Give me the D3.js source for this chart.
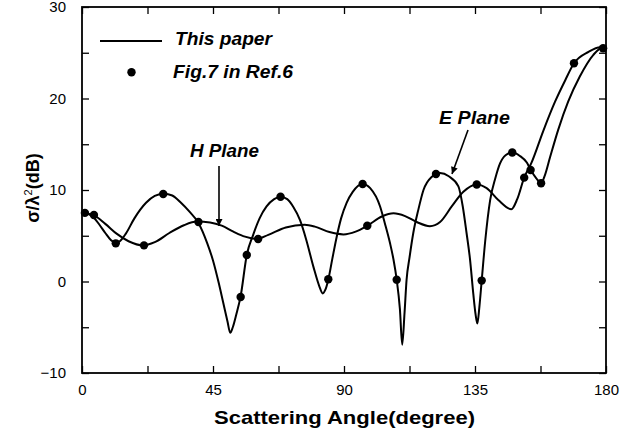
<!DOCTYPE html>
<html>
<head>
<meta charset="utf-8">
<script src="https://cdn.jsdelivr.net/npm/d3@7"></script>
<style>
  html, body { margin: 0; padding: 0; background: #fff; }
  svg { display: block; }
  text { font-family: "Liberation Sans", Arial, sans-serif; fill: #000; }
</style>
</head>
<body>
<svg id="chart" width="642" height="434"></svg>
<script>
// ---- Data ----
const ePlaneAngles = [0, 2, 4, 6, 8, 10, 11.6, 13, 15, 18, 22, 25, 28.2, 31, 34, 37, 40, 43, 45, 47, 48.5, 50, 50.9, 51.8, 53, 54.5, 56.6, 58.8, 61, 63.4, 66, 68.2, 70.5, 72.5, 74.9, 77, 79.5, 81.5, 82.7, 83.6, 84.6, 86, 87.5, 89, 90.9, 93, 96.4, 99, 102.4, 104, 105.8, 107, 108.1, 109.2, 110, 110.8, 111.5, 112.5, 113.8, 115.5, 117.3, 120, 123, 126, 129.3, 130.8, 132.1, 133.3, 134.4, 135.2, 135.8, 136.5, 137.3, 138.5, 140.2, 142, 143.6, 145.5, 148, 150.5, 152.8, 154.1, 156, 157.7, 159, 160.8, 163.6, 167, 171, 175.6, 179, 180];
const ePlaneValues = [7.5, 7.4, 7.0, 6.2, 5.3, 4.5, 4.2, 4.4, 5.2, 6.9, 8.6, 9.35, 9.6, 9.4, 8.6, 7.6, 6.4, 4.2, 2.3, -0.2, -2.3, -4.4, -5.6, -5.0, -3.6, -1.6, 2.9, 5.1, 6.9, 8.2, 9.0, 9.27, 9.0, 8.2, 6.7, 4.6, 1.6, -0.5, -1.3, -0.9, 0.2, 2.5, 4.9, 6.9, 8.6, 9.8, 10.66, 10.2, 8.2, 6.4, 4.2, 2.4, 0.2, -3.0, -6.9, -3.4, 0.2, 2.6, 5.3, 7.8, 10.0, 11.4, 11.85, 11.5, 10.4, 8.2, 5.3, 2.4, -1.3, -3.6, -4.6, -2.8, 0.1, 4.4, 8.9, 11.3, 12.9, 13.8, 14.1, 13.7, 13.0, 12.2, 11.3, 10.75, 11.6, 13.6, 16.6, 19.65, 22.4, 24.75, 25.6, 25.5];

const hPlaneAngles = [0, 4, 8, 12, 16, 21, 25, 30, 35, 39.5, 44, 48, 52, 56, 60, 64, 70, 76.5, 80, 85, 89.8, 94, 98, 103, 107, 111, 115, 119.5, 123, 127, 131, 135.5, 139, 143, 147.5, 149.5, 151.9, 154.3, 158.5, 162.5, 166, 169, 174, 178, 180];
const hPlaneValues = [7.5, 7.25, 6.3, 5.2, 4.4, 3.95, 4.3, 5.3, 6.15, 6.55, 6.45, 6.1, 5.45, 4.9, 4.65, 5.1, 5.9, 6.2, 6.0, 5.4, 5.15, 5.45, 6.1, 7.1, 7.45, 7.15, 6.5, 6.05, 6.5, 8.2, 9.8, 10.6, 10.2, 8.9, 7.9, 9.0, 11.35, 12.9, 16.5, 19.65, 22.0, 23.85, 25.1, 25.6, 25.5];

const refAngles = [1, 4.1, 11.6, 21.3, 27.9, 40, 54.5, 56.6, 60.5, 68.2, 84.6, 96.4, 98, 108.1, 121.6, 135.6, 137.3, 147.8, 151.9, 154.1, 157.7, 169, 179];
const refValues = [7.5, 7.27, 4.17, 3.95, 9.56, 6.5, -1.7, 2.9, 4.65, 9.27, 0.24, 10.66, 6.1, 0.2, 11.75, 10.6, 0.1, 14.1, 11.35, 12.19, 10.73, 23.85, 25.5];

const xTickValues = [0, 45, 90, 135, 180];
const xMinorTicks = [22.5, 67.5, 112.5, 157.5];
const yTickValues = [-10, 0, 10, 20, 30];
const yMinorTicks = [-5, 5, 15, 25];

const seriesLabels = ["This paper", "Fig.7 in Ref.6"];
const xTitle = "Scattering Angle(degree)";

// ---- Layout ----
const W = 642, H = 434;
const m = { left: 82, right: 36, top: 7, bottom: 61 };
const pw = W - m.left - m.right, ph = H - m.top - m.bottom;

const svg = d3.select("#chart");
const g = svg.append("g").attr("transform", `translate(${m.left},${m.top})`);

const x = d3.scaleLinear().domain([0, 180]).range([0, pw]);
const y = d3.scaleLinear().domain([-10, 30]).range([ph, 0]);

const defs = svg.append("defs");
defs.append("clipPath").attr("id", "clip").append("rect")
  .attr("x", 0).attr("y", 0).attr("width", pw).attr("height", ph);
defs.append("marker").attr("id", "arrow")
  .attr("viewBox", "0 0 10 10").attr("refX", 10).attr("refY", 5)
  .attr("markerWidth", 9).attr("markerHeight", 7).attr("markerUnits", "userSpaceOnUse")
  .attr("orient", "auto")
  .append("path").attr("d", "M0,0 L10,5 L0,10 z").attr("fill", "#000");

// ---- Axes (ticks inside) ----
const tickLen = 7;
function styleAxis(sel) {
  sel.select(".domain").remove();
  sel.selectAll(".tick line").attr("stroke", "#000").attr("stroke-width", 1.3);
  sel.selectAll(".tick text").style("font-size", "15px").attr("fill", "#000");
}
const xAllTicks = xTickValues.concat(xMinorTicks).sort((a, b) => a - b);
const yAllTicks = yTickValues.concat(yMinorTicks).sort((a, b) => a - b);

g.append("g").attr("transform", `translate(0,${ph})`)
  .call(d3.axisBottom(x).tickValues(xAllTicks).tickSizeInner(-tickLen).tickSizeOuter(0).tickPadding(11)
    .tickFormat(d => xTickValues.includes(d) ? d3.format("d")(d) : ""))
  .call(styleAxis);
g.append("g")
  .call(d3.axisTop(x).tickValues(xAllTicks).tickSizeInner(-tickLen).tickSizeOuter(0).tickFormat(""))
  .call(styleAxis);
g.append("g")
  .call(d3.axisLeft(y).tickValues(yAllTicks).tickSizeInner(-tickLen).tickSizeOuter(0).tickPadding(16)
    .tickFormat(d => yTickValues.includes(d) ? d3.format("d")(d) : ""))
  .call(styleAxis);
g.append("g").attr("transform", `translate(${pw},0)`)
  .call(d3.axisRight(y).tickValues(yAllTicks).tickSizeInner(-tickLen).tickSizeOuter(0).tickFormat(""))
  .call(styleAxis);

g.append("rect").attr("x", 0).attr("y", 0).attr("width", pw).attr("height", ph)
  .attr("fill", "none").attr("stroke", "#000").attr("stroke-width", 1.8);

// ---- Curves ----
const line = d3.line().x(d => x(d[0])).y(d => y(d[1])).curve(d3.curveMonotoneX);
const eData = ePlaneAngles.map((a, i) => [a, ePlaneValues[i]]);
const hData = hPlaneAngles.map((a, i) => [a, hPlaneValues[i]]);
const plot = g.append("g").attr("clip-path", "url(#clip)");
[eData, hData].forEach(d => {
  plot.append("path").datum(d).attr("d", line)
    .attr("fill", "none").attr("stroke", "#000").attr("stroke-width", 2).attr("stroke-linejoin", "round");
});

g.append("g").selectAll("circle").data(refAngles.map((a, i) => [a, refValues[i]]))
  .join("circle").attr("cx", d => x(d[0])).attr("cy", d => y(d[1])).attr("r", 4.2).attr("fill", "#000");

// ---- Legend & annotations ----
function bi(sel, xx, yy, txt, len) {
  return sel.append("text").attr("x", xx).attr("y", yy).text(txt)
    .style("font-size", "18px").style("font-weight", "bold").style("font-style", "italic")
    .attr("textLength", len).attr("lengthAdjust", "spacingAndGlyphs");
}
const lg = svg.append("g");
lg.append("line").attr("x1", 100).attr("x2", 162).attr("y1", 41).attr("y2", 41)
  .attr("stroke", "#000").attr("stroke-width", 2);
lg.append("circle").attr("cx", 131.5).attr("cy", 72.3).attr("r", 4.2).attr("fill", "#000");
bi(lg, 175, 45, seriesLabels[0], 97);
bi(lg, 173, 78, seriesLabels[1], 120);

bi(svg, 190, 157, "H Plane", 69);
svg.append("line").attr("x1", 219).attr("y1", 166).attr("x2", 219).attr("y2", 226)
  .attr("stroke", "#000").attr("stroke-width", 1.6).attr("marker-end", "url(#arrow)");
bi(svg, 439, 124, "E Plane", 71);
svg.append("line").attr("x1", 468).attr("y1", 130).attr("x2", 452).attr("y2", 174)
  .attr("stroke", "#000").attr("stroke-width", 1.6).attr("marker-end", "url(#arrow)");

// ---- Axis titles ----
svg.append("text").attr("x", 214).attr("y", 424)
  .style("font-size", "19px").style("font-weight", "bold")
  .attr("textLength", 261).attr("lengthAdjust", "spacingAndGlyphs").text(xTitle);
const yt = svg.append("text").attr("transform", "translate(39,188) rotate(-90)")
  .attr("text-anchor", "middle").style("font-size", "18px").style("font-weight", "bold");
yt.append("tspan").text("σ/λ");
yt.append("tspan").attr("dy", -7).style("font-size", "11px").style("font-weight", "normal").text("2");
yt.append("tspan").attr("dy", 7).text("(dB)");
</script>
</body>
</html>
